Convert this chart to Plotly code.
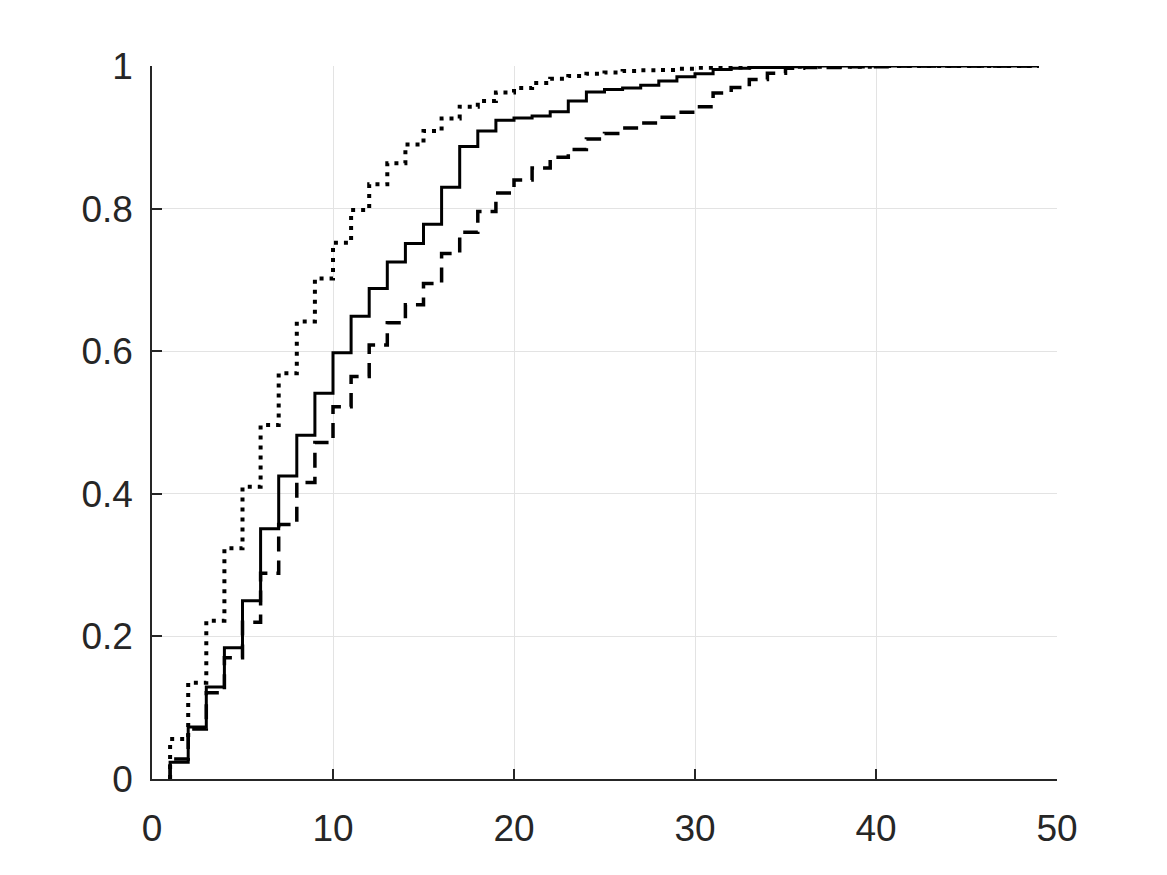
import plotly.graph_objects as go

# x positions (integers 1..49)
x_vals = list(range(1, 50))

solid_vals = [0.0235, 0.073, 0.129, 0.184, 0.25, 0.351, 0.425, 0.482, 0.541, 0.598,
              0.649, 0.688, 0.725, 0.751, 0.778, 0.83, 0.887, 0.909, 0.924, 0.927,
              0.930, 0.936, 0.951, 0.9635, 0.967, 0.969, 0.973, 0.979, 0.985, 0.989,
              0.995, 0.997, 0.998, 0.998, 0.999, 1.0, 1.0, 1.0, 1.0, 1.0,
              1.0, 1.0, 1.0, 1.0, 1.0, 1.0, 1.0, 1.0, 1.0]

dotted_vals = [0.056, 0.135, 0.222, 0.3235, 0.41, 0.4965, 0.569, 0.6415, 0.702, 0.752,
               0.798, 0.834, 0.8635, 0.890, 0.909, 0.9265, 0.943, 0.951, 0.963, 0.969,
               0.976, 0.982, 0.986, 0.989, 0.991, 0.993, 0.994, 0.9945, 0.996, 0.9975,
               0.998, 0.998, 0.9985, 0.999, 0.999, 0.999, 0.999, 0.999, 0.999, 1.0,
               1.0, 1.0, 1.0, 1.0, 1.0, 1.0, 1.0, 1.0, 1.0]

dashed_vals = [0.028, 0.07, 0.121, 0.17, 0.22, 0.2885, 0.357, 0.416, 0.472, 0.522,
               0.5645, 0.6087, 0.64, 0.665, 0.695, 0.737, 0.767, 0.796, 0.822, 0.84,
               0.857, 0.872, 0.883, 0.8976, 0.9055, 0.913, 0.92, 0.928, 0.935, 0.943,
               0.962, 0.970, 0.981, 0.99, 0.997, 0.998, 0.998, 0.999, 0.999, 0.999,
               1.0, 1.0, 1.0, 1.0, 1.0, 1.0, 1.0, 1.0, 1.0]

x_ticks = [0, 10, 20, 30, 40, 50]
y_ticks = [0, 0.2, 0.4, 0.6, 0.8, 1]
y_tick_text = ["0", "0.2", "0.4", "0.6", "0.8", "1"]

def stair(vals):
    return [x_vals[0]] + x_vals, [0] + vals

fig = go.Figure()
for vals, dash, w in [(dotted_vals, "4px,6px", 4),
                      (dashed_vals, "15px,9px", 3.5),
                      (solid_vals, "solid", 3)]:
    xs, ys = stair(vals)
    fig.add_trace(go.Scatter(x=xs, y=ys, mode="lines", line_shape="hv",
                             line=dict(color="black", width=w, dash=dash),
                             showlegend=False, hoverinfo="skip"))

axis_font = dict(family="Liberation Sans, Arial, sans-serif", size=37, color="#262626")
fig.update_layout(
    width=1167, height=875,
    margin=dict(l=152, r=110, t=66, b=96),
    paper_bgcolor="white", plot_bgcolor="white",
    xaxis=dict(range=[0, 50], tickvals=x_ticks, ticktext=[str(t) for t in x_ticks],
               showgrid=True, gridcolor="#e3e3e3", gridwidth=1,
               showline=True, linecolor="#262626", linewidth=1.5,
               ticks="inside", ticklen=10, tickwidth=1.5, tickcolor="#262626",
               tickfont=axis_font, zeroline=False, ticklabelstandoff=16),
    yaxis=dict(range=[0, 1], tickvals=y_ticks, ticktext=y_tick_text,
               showgrid=True, gridcolor="#e3e3e3", gridwidth=1,
               showline=True, linecolor="#262626", linewidth=1.5,
               ticks="inside", ticklen=10, tickwidth=1.5, tickcolor="#262626",
               tickfont=axis_font, zeroline=False, ticklabelstandoff=10),
)

fig.write_html("out.html")
